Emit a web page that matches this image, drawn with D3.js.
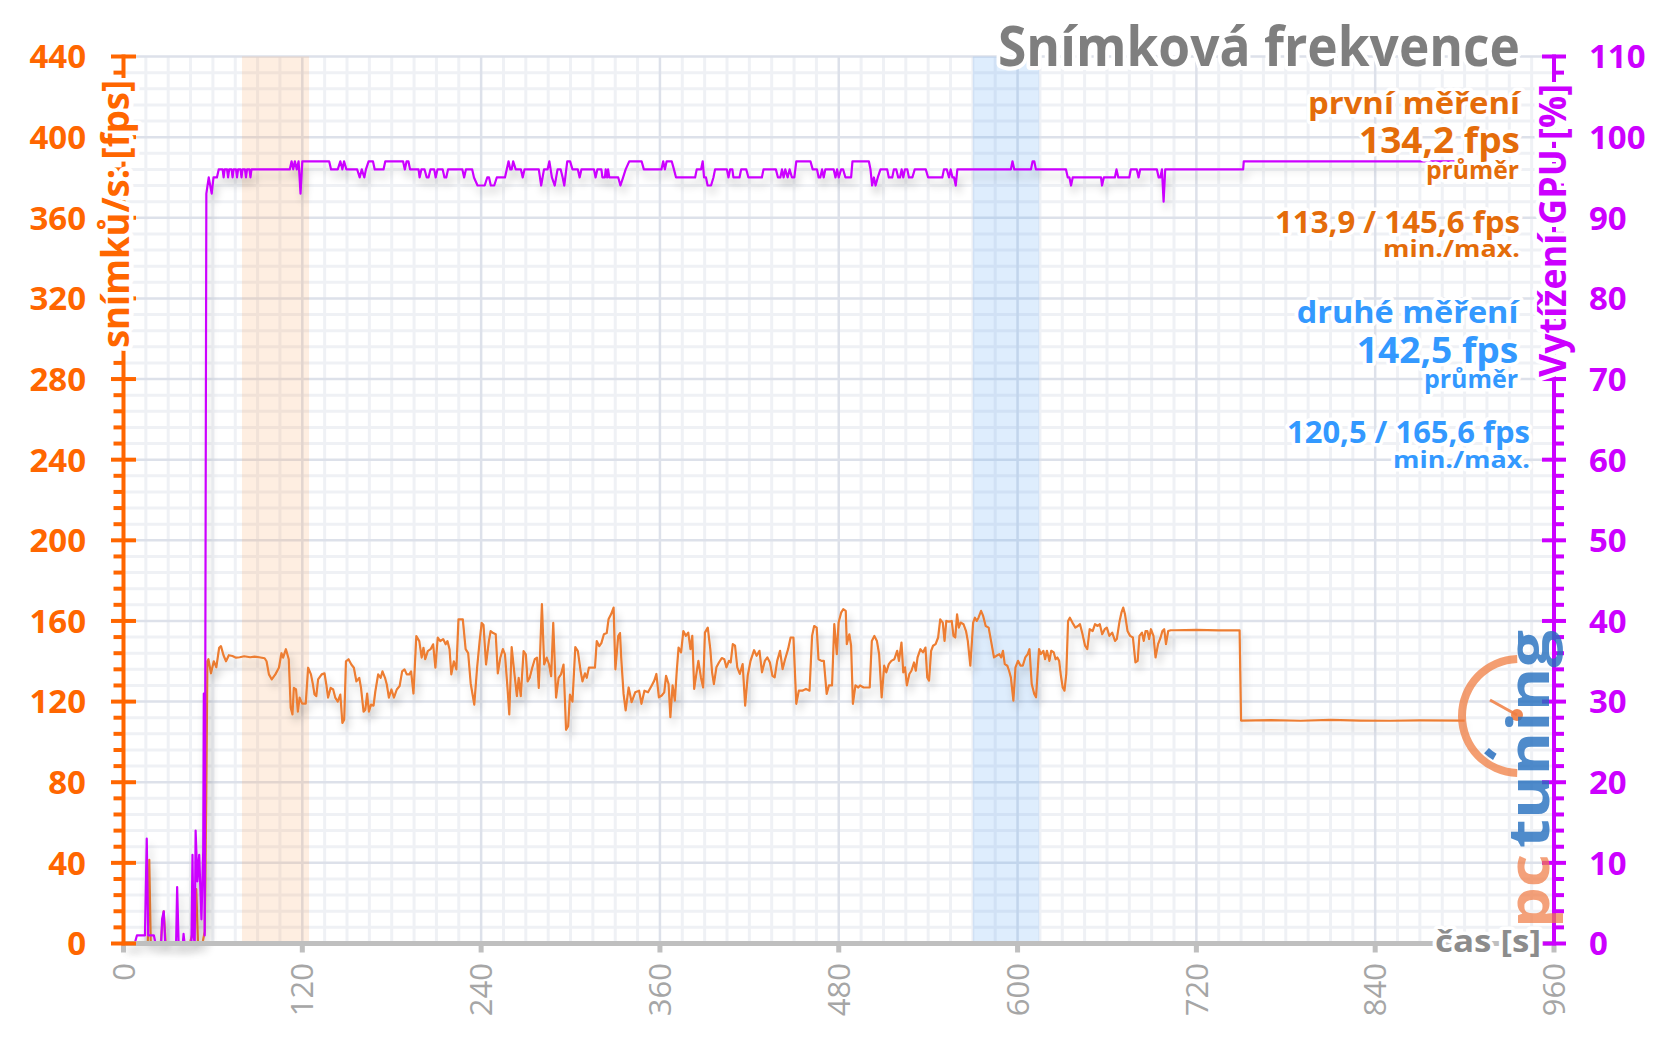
<!DOCTYPE html>
<html><head><meta charset="utf-8">
<script src="https://cdn.jsdelivr.net/npm/d3@7"></script>
<style>
html,body{margin:0;padding:0;background:#fff;}
svg{display:block;}
text{font-family:"Open Sans","Noto Sans",sans-serif;}
.halo{paint-order:stroke;stroke:#fff;stroke-linejoin:round;}
</style>
</head><body>
<svg id="c" width="1656" height="1044"></svg>
<script>
// ---------------- DATA ----------------
const xTicks = [0,120,240,360,480,600,720,840,960];
const yTicksLeft = [0,40,80,120,160,200,240,280,320,360,400,440];
const yTicksRight = [0,10,20,30,40,50,60,70,80,90,100,110];
const bandFirst = [79.5,124.5];   // time range of first measurement highlight
const bandSecond = [570,614.5];   // time range of second measurement highlight
const titleText = "Snímková frekvence";
const leftAxisTitle = "snímků/s: [fps]";
const rightAxisTitle = "Vytížení GPU [%]";
const xAxisTitle = "čas [s]";
const legendFirst = ["první měření","134,2 fps","průměr","113,9 / 145,6 fps","min./max."];
const legendSecond = ["druhé měření","142,5 fps","průměr","120,5 / 165,6 fps","min./max."];

// frames per second  [time s, fps]
const fpsData = [
[0,0],[8,0],[16.3,0],[17.3,41.5],[18.3,0],[25,0],[26,10],[27,16],[28.3,0],[44.5,0],[46.3,5],[47.5,16],[48.8,27],[50,0],[53,0],[54.5,6],[55.5,70],[56.3,140],[57,141],[58.7,134],[60.6,140],[62.3,137],[64.2,146.7],[65.4,147.5],[67.1,143],[68.8,140],[70.7,143],[73.1,142.6],[75.5,141.8],[78,142],[81,142.5],[85,142],[88,142.3],[91,142],[94.7,141.5],[96,140],[97.6,133.5],[99.5,131],[101.9,133.5],[104.3,136.8],[106,144],[107.1,141.8],[109,146],[110.9,141],[112.2,117],[113.4,113.6],[114.3,126.8],[115.8,126],[117,115],[118.2,122],[119.9,119],[122.3,119],[123.9,136.8],[125.8,133.5],[127,129],[128.2,123.5],[129.4,122.7],[130.6,131],[133,133.5],[134.9,134],[136.1,128.5],[137.3,122],[139,126.8],[140.7,126],[142.1,122],[143.8,120],[145.5,123.5],[146.9,109.4],[148.1,111],[149.3,140],[151,141],[152.9,138.4],[154.6,136.8],[156.3,130],[158.2,131.8],[159.4,126.8],[161.1,115],[162.3,116],[163.5,124],[164.7,115],[166.1,118.5],[167.8,118],[169,125],[170.9,133.5],[172.6,131.8],[173.8,135],[175.5,131.8],[176.7,128.5],[178.1,122],[179.8,126],[181.5,122],[183.4,126],[185.3,127.7],[187,135],[188.6,136],[190.1,133.5],[191.8,133.5],[193,135],[194.6,124],[196.5,152.5],[198.5,150],[200.1,141.8],[201.3,146.7],[202.5,141],[204.2,145],[206.1,146],[207.8,148.4],[209.3,136.8],[210.9,151.7],[212.6,150],[214.5,151],[216.2,148.4],[217.4,150],[218.8,146],[220,133.5],[221.7,140],[223.4,136],[224.8,160.8],[227.7,160.8],[229.6,146],[231.3,144],[233,129],[235.4,118.5],[237.3,136.8],[239,150],[240.4,159],[241.6,158],[243.3,138.4],[245.2,150],[246.4,155],[248.1,154],[249.8,153.4],[251.2,134],[252.9,141.8],[254.6,146],[256,143.4],[257.7,126.8],[258.9,113.6],[260.5,147],[262.4,133.5],[264,122.7],[265.2,131.8],[266.6,122.7],[268.5,145],[270,143.4],[271.2,130],[272.6,131.8],[274.3,136.8],[276,141],[277.5,141.8],[278.7,126.8],[280.8,168.3],[282.3,138.4],[284,141.8],[285.6,138.4],[287,132.6],[288.4,159],[290.3,122],[292,131.8],[293.6,133.5],[295.3,138.4],[297,106],[298.4,107.8],[299.6,123.5],[301.3,120],[303.2,147],[304.9,145],[306.8,135],[308,130],[309.7,134],[310.9,131.8],[312.3,136.8],[316.4,136.8],[317.6,150],[319.3,147.5],[320.7,149],[322.4,153.4],[324.3,154],[325.5,160.8],[327.2,163.3],[328.9,166.6],[330.1,136],[332,152.5],[333.2,154],
[334,141.9],[335.6,123.8],[337,115.6],[339,127],[341,119.7],[343.4,124.6],[346,125.4],[347.6,118.9],[349.6,125.4],[352,124.6],[354.5,128],[356.2,130.4],[357.6,133.7],[359.3,122.1],[361.2,123],[362.9,124.6],[364.1,132.8],[365.8,128.7],[367,112.3],[368.5,128],[370,120.5],[371.3,135.3],[372.5,146.8],[374.2,144.4],[375.7,155],[377.4,152.6],[379,154.2],[380.5,146],[381.7,152.6],[383,126.3],[384.6,134.5],[385.8,140.2],[387.5,132],[389,127],[390.2,154.2],[392.1,156.7],[393.8,146],[395,134.5],[396.2,128.7],[397.9,137],[399.6,139.4],[401.5,141.6],[403.2,141],[404.6,137],[406.3,140.2],[407.5,139.4],[408.9,148.5],[410.4,147.7],[411.9,137],[413.6,133.7],[415.5,138.6],[417.2,118],[418.9,132.8],[420.8,140.2],[423.2,145.5],[424.9,142.7],[426.8,145.2],[428.5,134.5],[430.4,140.2],[432.1,141.9],[433.8,139.4],[435.5,132.8],[437,132],[438.7,140.2],[440.6,145.2],[442.3,136.1],[444,141],[446,146],[447.7,151.8],[449.6,151.8],[451.5,118.9],[453.2,125.4],[455.6,125.4],[458,126.3],[460.4,125.4],[462.1,152.6],[463.5,157.5],[465.2,156.7],[466.4,141],[468.4,140.2],[470,140.2],[471.9,123.8],[473.4,128],[475.5,128],[477,158.4],[478.7,143.5],[479.9,159.2],[481.6,164.1],[483,165.8],[484.7,165],[485.4,148.5],[487.1,153.4],[488.3,147.7],[489.5,118.9],[491.2,128],[493.1,127],[494.3,128],[496.7,127],[500.8,127],[502.2,150.1],[503.9,152.6],[505.6,150.1],[507.1,143.5],[508.8,122.1],[510.5,137.8],[511.9,134.5],[513.6,138.6],[515.3,140.2],[517.3,141],[519.2,145.2],[520.4,140.2],[522.1,149.3],[523.3,134.5],[524.5,137],[525.7,128],[527.4,133.7],[528.8,135.3],[530.5,139.4],[531.7,135.3],[532.9,141.9],[534.8,146],[536.5,144.4],[538.2,146.8],[539.4,132],[540.6,130.4],[542,145.2],[543.3,147.7],[545,148.5],[546.7,151.8],[548.1,160.8],[549.8,159.2],[551,150.1],[552.2,160],[553.9,159.7],[555.8,160],[557,152.6],[558.2,151.8],[559.4,163.3],[560.6,156.7],[561.8,159.2],[563.7,158.4],[565.4,155],[566.6,150.1],[568.3,137.8],[570.2,159.2],[571.4,161.6],[572.6,160],[573.8,161.6],[575.5,165],[576.9,162.5],[578.6,157.5],[580.6,156.7],[582.2,150.1],[584.2,141.9],[585.8,142.7],[587.8,143.5],[589,141.9],[590.2,145.2],[591.4,138.6],[593.1,137.8],[594.3,135.3],[595.5,132],[597.2,120.5],[598.6,137],[600.3,140.2],[602,137.8],[603.5,137.8],[605.2,141.9],[606.8,143.5],[608,146],[609.5,128.7],[611.2,123.8],[612.4,122.1],[614.4,146],[615.6,143.5],[617.3,145.2],[618.5,141],[619.7,145.2],[621.4,140.2],[622.6,145.2],[624.3,144.4],[625.5,141],[626.7,141.9],[627.9,140.2],[629.1,132.8],[630.3,127],[631.5,125.4],[632.7,133.7],[633.9,160],[635.1,161.6],[636.8,159.2],[638.8,156.7],[640.5,157.5],[641.9,158.4],[643.6,153.4],[645.3,147.7],[646.8,146],[648.4,155.9],[650.4,155],[652,158.4],[653.7,157.5],[655.2,158.4],[656.8,153.4],[658.5,155.9],[659.9,156.7],[661.6,152.6],[663.5,154.2],[665.4,150.1],[666.6,151],[668.3,159.2],[669.7,164.1],[670.9,166.6],[672.1,163.3],[673.8,155],[675.5,152.6],[677.4,151.8],[679.1,139.4],[680.6,140.2],[681.8,152.6],[683.5,154.2],[684.7,150.1],[685.9,155],[687.1,155],[688.3,151],[689.5,155.9],[691.2,152.6],[692.6,141.9],[694.3,148.5],[696,151.8],[697.2,155],[698.4,155.9],[699.6,148.5],[701.1,155],[702.8,155.4],[705.2,155.4],[720,155.6],[735,155.3],[749,155.4],[750,110.6],[770,110.8],[790,110.5],[810,110.9],[830,110.6],[850,110.5],[870,110.7],[900,110.6]
];

// GPU load  [time s, %]
const gpuData = [
[0,0],[7.5,0],[9,1],[14.4,1],[15.6,13],[16.6,1],[20.4,1],[21.5,0],[25.3,0],[25.9,3],[27,4],[28,0],[35.3,0],[36,7],[37,0],[39.8,0],[40.3,1.2],[41,0],[45.6,0],[46.3,11],[47,1],[47.8,0],[48.4,14],[49.6,7.7],[50.8,11],[52.3,3],[53.5,11.5],[53.9,31],[54.5,1],[55.6,93],[57.2,95],[59.2,93],[60.4,95],[62.7,95],[63.9,96],
[66.5,96],[67.2,95],[67.9,96],[69.5,96],[70.2,95],[70.9,96],[72.5,96],[73.2,95],[73.9,96],[75.5,96],[76.2,95],[76.9,96],[78.5,96],[79.2,95],[79.9,96],[81.5,96],[82.2,95],[82.9,96],[84.5,96],[85.2,95],[85.9,96],[111.6,96],[112.8,97],[113.9,96],[115,97],[116.3,96],[117.5,97],[118.8,93],[120,97],[138,97],[139.3,96],[143.8,96],[145.5,97],[146.9,96],[148,97],[149.6,96],[156.8,96],[158.5,95],[159.9,96],[161.6,95],[162.7,96],[164.5,97],[167.4,97],[168.6,96],[174.5,96],[175.7,97],[187.6,97],[188.8,96],[190,97],[191.2,97],[192.3,96],[198,96],[198.7,95],[199.9,96],[202,96],[203.5,95],[204.7,95],[206,96],[208.5,96],[209.5,95],[210.7,96],[214.2,96],[215.4,95],[216.6,95],[217.8,96],[227.4,96],[228.6,95],[229.8,96],[234,96],[235.2,95],[237.6,94],[242.4,94],[244.1,95],[245.3,95],[246.5,94],[248.8,94],[250.5,95],[256,95],[257.2,96],[258.4,97],[259.6,96],[260.5,96],[261.5,97],[263.2,96],[266.7,96],[267.9,95],[269.1,96],[278.7,96],[280.3,94],[282.2,96],[284.6,96],[285.8,97],[287.5,95],[289.4,94],[291.3,96],[293.4,96],[294.7,95],[295.8,94],[297.8,97],[299.7,97],[301.3,96],[304.9,96],[306.1,95],[307.3,96],[315.7,96],[316.8,95],[318,96],[320.7,96],[321.4,95],[323.1,95],[323.6,96],[324.6,95],[325.2,96],[326,95],[332,95],[333.5,94],[335.3,95],[337,96],[339.4,97],[347.7,97],[349.2,96],[361,96],[362.2,97],[363.3,96],[364.5,97],[367.9,97],[369.4,96],[370.8,95],[383.6,95],[384.7,96],[387.6,96],[388.7,97],[389.6,95],[390.9,95],[392,94],[394.3,94],[395.9,95],[397,96],[404.9,96],[406,95],[407.1,96],[408.6,96],[409.3,95],[413.4,95],[414.5,96],[417.9,96],[419.4,95],[428.4,95],[429.5,96],[437.8,96],[439.2,95],[440.8,95],[441.9,96],[443,95],[444.1,96],[445.7,95],[447,96],[448.6,95],[450.2,95],[451.5,97],[461,97],[462.5,96],[465.4,96],[466.5,95],[467.6,95],[468.8,96],[469.9,95],[471,96],[476.6,96],[477.8,95],[478.9,96],[480,95],[481.6,96],[482.9,96],[484.5,95],[488.3,95],[489.2,97],[500.2,97],[501.3,96],[502.4,94],[503.6,95],[504.7,94],[506.2,95],[508,96],[512.5,96],[513.6,95],[515.9,95],[517,96],[518.6,96],[519.9,95],[521.1,95],[522.2,96],[523.3,95],[524.4,96],[526,96],[527.1,95],[529.4,95],[531,96],[538.4,96],[540,95],[549.5,95],[550.6,96],[552.5,96],[554,95],[555.1,96],[556.3,95],[557.4,95],[558.5,94],[559.6,96],[595.5,96],[596.6,97],[597.8,96],[609,96],[610.1,97],[611.2,97],[612.3,96],[632.5,96],[633.7,95],[634.8,95],[635.9,94],[637,95],[656,95],[656.7,94],[657.9,95],[665.3,95],[666.4,96],[667.6,95],[675,95],[676,96],[680,96],[681.2,95],[682.3,96],[693.5,96],[694.7,95],[695.8,95],[696.9,96],[698,92],[699.1,96],[751.4,96],[751.8,97],[900,97]
];

// ---------------- CHART ----------------
const W = 1656, H = 1044;
const svg = d3.select('#c');
const x = d3.scaleLinear().domain([0,960]).range([123.5,1554]);
const yL = d3.scaleLinear().domain([0,440]).range([943.5,56.5]);
const yR = d3.scaleLinear().domain([0,110]).range([943.5,56.5]);

const defs = svg.append('defs');
const f = defs.append('filter').attr('id','shadow').attr('filterUnits','userSpaceOnUse')
  .attr('x',0).attr('y',0).attr('width',W).attr('height',H);
f.append('feGaussianBlur').attr('in','SourceAlpha').attr('stdDeviation',4).attr('result','b');
f.append('feOffset').attr('in','b').attr('dx',3).attr('dy',7).attr('result','o');
const ct = f.append('feComponentTransfer').attr('in','o').attr('result','s');
ct.append('feFuncA').attr('type','linear').attr('slope',0.22);
const fm = f.append('feMerge');
fm.append('feMergeNode').attr('in','s');
fm.append('feMergeNode').attr('in','SourceGraphic');

svg.append('rect').attr('width',W).attr('height',H).attr('fill','#fff');

// grid
const g = svg.append('g');
const minorX = d3.range(15,960,15).filter(t=>t%120!==0);
const minorY = d3.range(8,440,8).filter(v=>v%40!==0);
g.selectAll('.mx').data(minorX).join('line')
  .attr('x1',d=>x(d)).attr('x2',d=>x(d)).attr('y1',yL(0)).attr('y2',yL(440))
  .attr('stroke','#eff1f5').attr('stroke-width',3);
g.selectAll('.my').data(minorY).join('line')
  .attr('x1',x(0)).attr('x2',x(960)).attr('y1',d=>yL(d)).attr('y2',d=>yL(d))
  .attr('stroke','#eff1f5').attr('stroke-width',3);
g.selectAll('.Mx').data(xTicks.filter(t=>t>0&&t<960)).join('line')
  .attr('x1',d=>x(d)).attr('x2',d=>x(d)).attr('y1',yL(0)).attr('y2',yL(440))
  .attr('stroke','#dde1ea').attr('stroke-width',2.5);
g.selectAll('.My').data(yTicksLeft.filter(v=>v>0)).join('line')
  .attr('x1',x(0)).attr('x2',x(960)).attr('y1',d=>yL(d)).attr('y2',d=>yL(d))
  .attr('stroke','#dde1ea').attr('stroke-width',2.5);

// bands
svg.append('rect').attr('x',x(bandFirst[0])).attr('width',x(bandFirst[1])-x(bandFirst[0]))
  .attr('y',yL(440)).attr('height',yL(0)-yL(440)).attr('fill','rgba(250,160,90,0.18)');
svg.append('rect').attr('x',x(bandSecond[0])).attr('width',x(bandSecond[1])-x(bandSecond[0]))
  .attr('y',yL(440)).attr('height',yL(0)-yL(440)).attr('fill','rgba(90,165,245,0.2)');

// lines
const lineF = d3.line().x(d=>x(d[0])).y(d=>yL(d[1]));
const lineG = d3.line().x(d=>x(d[0])).y(d=>yR(d[1]));
svg.append('path').datum(fpsData).attr('d',lineF).attr('fill','none')
  .attr('stroke','#ed7d31').attr('stroke-width',2.2).attr('stroke-linejoin','round').attr('filter','url(#shadow)');
svg.append('path').datum(gpuData).attr('d',lineG).attr('fill','none')
  .attr('stroke','#cc00ff').attr('stroke-width',2.2).attr('stroke-linejoin','round').attr('filter','url(#shadow)');

// x axis
const xa = svg.append('g');
xa.append('line').attr('x1',x(0)-2).attr('x2',x(960)).attr('y1',yL(0)).attr('y2',yL(0))
  .attr('stroke','#bfbfbf').attr('stroke-width',5);
xa.selectAll('rect').data(xTicks).join('rect')
  .attr('x',d=>x(d)-2.5).attr('y',yL(0)).attr('width',5).attr('height',9).attr('fill','#bfbfbf');
xa.selectAll('text').data(xTicks).join('text')
  .attr('transform',d=>`translate(${x(d)},963) rotate(-90)`)
  .attr('text-anchor','end').attr('dy','0.36em')
  .attr('font-size',31).attr('fill','#a6a6a6').text(d=>d);

// left axis
const la = svg.append('g');
la.append('line').attr('x1',x(0)).attr('x2',x(0)).attr('y1',yL(0)+2).attr('y2',yL(440)-2)
  .attr('stroke','#ff6600').attr('stroke-width',4);
la.selectAll('.mn').data(minorY).join('line')
  .attr('x1',x(0)-10).attr('x2',x(0)).attr('y1',d=>yL(d)).attr('y2',d=>yL(d))
  .attr('stroke','#ff6600').attr('stroke-width',4);
la.selectAll('.mj').data(yTicksLeft).join('line')
  .attr('x1',x(0)-12.5).attr('x2',x(0)+12.5).attr('y1',d=>yL(d)).attr('y2',d=>yL(d))
  .attr('stroke','#ff6600').attr('stroke-width',4);
la.selectAll('text').data(yTicksLeft).join('text')
  .attr('x',86).attr('y',d=>yL(d)).attr('dy','0.36em').attr('text-anchor','end')
  .attr('font-size',33).attr('font-weight',700).attr('fill','#ff6600').text(d=>d);

// right axis
const ra = svg.append('g');
const minorR = d3.range(2,110,2).filter(v=>v%10!==0);
ra.append('line').attr('x1',x(960)).attr('x2',x(960)).attr('y1',yR(0)+2).attr('y2',yR(110)-2)
  .attr('stroke','#cc00ff').attr('stroke-width',4);
ra.selectAll('.mn').data(minorR).join('line')
  .attr('x1',x(960)).attr('x2',x(960)+10).attr('y1',d=>yR(d)).attr('y2',d=>yR(d))
  .attr('stroke','#cc00ff').attr('stroke-width',4);
ra.selectAll('.mj').data(yTicksRight).join('line')
  .attr('x1',x(960)-12).attr('x2',x(960)+12).attr('y1',d=>yR(d)).attr('y2',d=>yR(d))
  .attr('stroke','#cc00ff').attr('stroke-width',4);
ra.selectAll('text').data(yTicksRight).join('text')
  .attr('x',1589).attr('y',d=>yR(d)).attr('dy','0.36em').attr('text-anchor','start')
  .attr('font-size',33).attr('font-weight',700).attr('fill','#cc00ff').text(d=>d);

// axis titles
svg.append('text').attr('class','halo').attr('stroke-width',9)
  .attr('transform','translate(129,80) rotate(-90)').attr('text-anchor','end')
  .attr('font-size',37).attr('font-weight',700).attr('fill','#ff6600')
  .attr('textLength',268).attr('lengthAdjust','spacingAndGlyphs').text(leftAxisTitle);
svg.append('text').attr('class','halo').attr('stroke-width',9)
  .attr('transform','translate(1566,84) rotate(-90)').attr('text-anchor','end')
  .attr('font-size',37).attr('font-weight',700).attr('fill','#cc00ff')
  .attr('textLength',293).attr('lengthAdjust','spacingAndGlyphs').text(rightAxisTitle);
svg.append('text').attr('class','halo').attr('stroke-width',7)
  .attr('x',1541).attr('y',952).attr('text-anchor','end')
  .attr('font-size',31).attr('font-weight',700).attr('fill','#8c8c8c')
  .attr('textLength',106).attr('lengthAdjust','spacingAndGlyphs').text(xAxisTitle);

// logo (watermark)
const lg = svg.append('g');
const cx = 1519, cy = 716, r = 57;
const arc = d3.arc().innerRadius(r-4).outerRadius(r+4).startAngle(-Math.PI*0.99).endAngle(-Math.PI*0.01);
lg.append('path').attr('d',arc).attr('transform',`translate(${cx},${cy})`).attr('fill','rgba(240,125,65,0.75)');
const arcB = d3.arc().innerRadius(r-13).outerRadius(r-6).startAngle(-Math.PI*0.83).endAngle(-Math.PI*0.76);
lg.append('path').attr('d',arcB).attr('transform',`translate(${cx},${cy})`).attr('fill','rgba(40,110,190,0.85)');
lg.append('line').attr('x1',cx-29).attr('y1',cy-16).attr('x2',cx-2).attr('y2',cy-1)
  .attr('stroke','rgba(240,125,65,0.85)').attr('stroke-width',3);
lg.append('circle').attr('cx',cx-2).attr('cy',cy-1).attr('r',6).attr('fill','rgba(240,125,65,0.9)');
lg.append('text').attr('transform','translate(1549,928) rotate(-90)').attr('text-anchor','start')
  .attr('font-family','DejaVu Sans').attr('font-size',58).attr('font-weight',700)
  .attr('fill','rgba(240,125,70,0.72)').attr('textLength',74).attr('lengthAdjust','spacingAndGlyphs').text('pc');
lg.append('text').attr('transform','translate(1549,848) rotate(-90)').attr('text-anchor','start')
  .attr('font-family','DejaVu Sans').attr('font-size',58).attr('font-weight',700)
  .attr('fill','rgba(35,110,190,0.8)').attr('textLength',218).attr('lengthAdjust','spacingAndGlyphs').text('tuning');

// title
svg.append('text').attr('class','halo').attr('stroke-width',8)
  .attr('x',1520).attr('y',66).attr('text-anchor','end')
  .attr('font-size',55).attr('font-weight',700).attr('fill','#7f7f7f')
  .attr('textLength',522).attr('lengthAdjust','spacingAndGlyphs').text(titleText);

// legends
const legPos1 = [[1520,113.5,31,212],[1520,152.5,35,161],[1519,178.5,25,93],[1520,233,30,245],[1520,257,24,137]];
const legPos2 = [[1518.3,323.3,31,221.6],[1518.3,362.7,35,161.6],[1518,387.5,25,94],[1530,443,30,243],[1530,468,24,137]];
function legend(texts,pos,color){
  texts.forEach((t,i)=>{
    const p = pos[i];
    svg.append('text').attr('class','halo').attr('stroke-width',7)
      .attr('x',p[0]).attr('y',p[1]).attr('text-anchor','end')
      .attr('font-size',p[2]).attr('font-weight',700).attr('fill',color)
      .attr('textLength',p[3]).attr('lengthAdjust','spacingAndGlyphs').text(t);
  });
}
legend(legendFirst,legPos1,'#e46c0a');
legend(legendSecond,legPos2,'#3399ff');
</script>
</body></html>
